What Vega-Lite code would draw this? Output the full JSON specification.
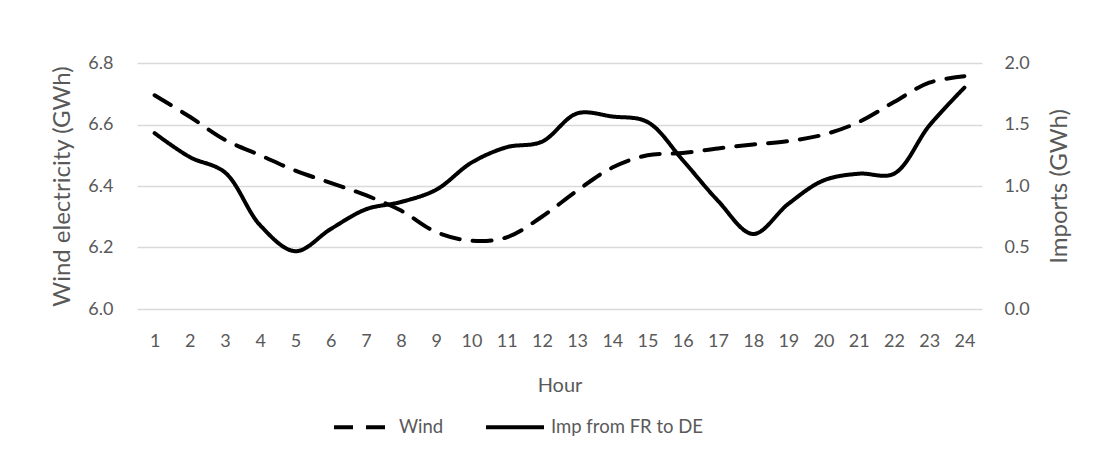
{
  "$schema": "https://vega.github.io/schema/vega-lite/v6.json",
  "autosize": "none",
  "width": 845,
  "height": 246,
  "padding": {"left": 137, "top": 63, "right": 120, "bottom": 148},
  "background": "white",
  "config": {
    "view": {"stroke": null},
    "font": "Lato",
    "axis": {
      "labelFont": "Lato",
      "titleFont": "Lato",
      "labelColor": "#595959",
      "titleColor": "#595959",
      "labelFontSize": 18,
      "titleFontSize": 20,
      "titleFontWeight": "normal",
      "ticks": false,
      "domain": false,
      "gridColor": "#d9d9d9",
      "gridWidth": 1.3
    },
    "legend": {
      "labelFont": "Lato",
      "labelColor": "#595959",
      "labelFontSize": 18.5
    }
  },
  "data": {
    "values": [
      {"hour": 1, "wind": 6.695, "imports": 1.43},
      {"hour": 2, "wind": 6.625, "imports": 1.235},
      {"hour": 3, "wind": 6.55, "imports": 1.11},
      {"hour": 4, "wind": 6.5, "imports": 0.68},
      {"hour": 5, "wind": 6.45, "imports": 0.47},
      {"hour": 6, "wind": 6.41, "imports": 0.65},
      {"hour": 7, "wind": 6.37, "imports": 0.81},
      {"hour": 8, "wind": 6.32, "imports": 0.87},
      {"hour": 9, "wind": 6.25, "imports": 0.97},
      {"hour": 10, "wind": 6.222, "imports": 1.19},
      {"hour": 11, "wind": 6.233, "imports": 1.315},
      {"hour": 12, "wind": 6.3, "imports": 1.36},
      {"hour": 13, "wind": 6.385, "imports": 1.59},
      {"hour": 14, "wind": 6.46, "imports": 1.565},
      {"hour": 15, "wind": 6.5, "imports": 1.52},
      {"hour": 16, "wind": 6.507, "imports": 1.21},
      {"hour": 17, "wind": 6.522, "imports": 0.88},
      {"hour": 18, "wind": 6.535, "imports": 0.61},
      {"hour": 19, "wind": 6.546, "imports": 0.855},
      {"hour": 20, "wind": 6.567, "imports": 1.045},
      {"hour": 21, "wind": 6.608, "imports": 1.1},
      {"hour": 22, "wind": 6.673, "imports": 1.1},
      {"hour": 23, "wind": 6.736, "imports": 1.49},
      {"hour": 24, "wind": 6.757, "imports": 1.8}
    ]
  },
  "encoding": {
    "x": {
      "field": "hour",
      "type": "ordinal",
      "scale": {"type": "point", "padding": 0.5},
      "axis": {"title": "Hour", "labelAngle": 0, "labelPadding": 23, "titlePadding": 25, "grid": false}
    }
  },
  "layer": [
    {
      "mark": {"type": "line", "interpolate": "catmull-rom", "strokeWidth": 4, "color": "black", "strokeCap": "round"},
      "encoding": {
        "y": {
          "field": "wind",
          "type": "quantitative",
          "scale": {"domain": [6.0, 6.8], "zero": false, "nice": false},
          "axis": {"title": "Wind electricity (GWh)", "orient": "left", "values": [6.0, 6.2, 6.4, 6.6, 6.8], "format": ".1f", "labelPadding": 24, "titlePadding": 13, "titleFontSize": 24, "grid": true}
        },
        "strokeDash": {
          "datum": "Wind",
          "type": "nominal",
          "scale": {"domain": ["Wind", "Imp from FR to DE"], "range": [[19, 13], [1, 0]]},
          "legend": {
            "title": null,
            "orient": "none",
            "direction": "horizontal",
            "legendX": 195,
            "legendY": 333,
            "symbolType": "stroke",
            "symbolSize": 3364,
            "symbolStrokeWidth": 4,
            "symbolStrokeColor": "black",
            "labelOffset": 5,
            "columnPadding": 34
          }
        }
      }
    },
    {
      "mark": {"type": "line", "interpolate": "catmull-rom", "strokeWidth": 4, "color": "black", "strokeCap": "round"},
      "encoding": {
        "y": {
          "field": "imports",
          "type": "quantitative",
          "scale": {"domain": [0, 2.0], "nice": false},
          "axis": {"title": "Imports (GWh)", "orient": "right", "values": [0, 0.5, 1.0, 1.5, 2.0], "format": ".1f", "labelPadding": 22, "titlePadding": 18, "titleAngle": 270, "titleBaseline": "top", "titleFontSize": 24, "grid": false}
        },
        "strokeDash": {"datum": "Imp from FR to DE", "type": "nominal"}
      }
    }
  ],
  "resolve": {"scale": {"y": "independent"}}
}
